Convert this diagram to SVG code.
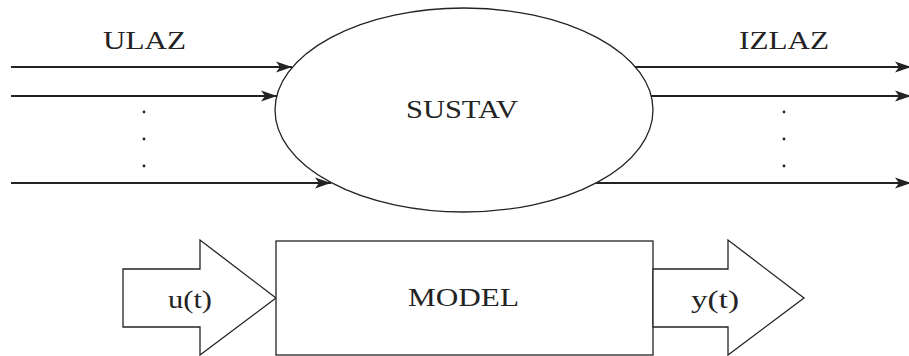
<svg xmlns="http://www.w3.org/2000/svg" width="909" height="356" viewBox="0 0 909 356">
<style>
.ln{stroke:#232323;stroke-width:2.2;fill:none}
.sh{stroke:#232323;stroke-width:1.3;fill:#fff}
.t{font-family:"Liberation Serif","Times New Roman",serif;font-size:25px;fill:#232323}
.dot{fill:#232323}
</style>
<defs>
<marker id="ah" markerUnits="userSpaceOnUse" markerWidth="18" markerHeight="12" refX="16" refY="6" orient="auto">
<path d="M0,0.5 L16,6 L0,11.5 L4,6 z" fill="#232323"/>
</marker>
</defs>
<g id="connectors">
<line class="ln" x1="11" y1="67" x2="292" y2="67" marker-end="url(#ah)"/>
<line class="ln" x1="11" y1="96" x2="277" y2="96" marker-end="url(#ah)"/>
<line class="ln" x1="11" y1="183" x2="331" y2="183" marker-end="url(#ah)"/>
<line class="ln" x1="635" y1="67" x2="911" y2="67" marker-end="url(#ah)"/>
<line class="ln" x1="651" y1="96" x2="911" y2="96" marker-end="url(#ah)"/>
<line class="ln" x1="596" y1="183" x2="911" y2="183" marker-end="url(#ah)"/>
</g>
<g id="labels">
<text class="t" x="103" y="49" textLength="83" lengthAdjust="spacingAndGlyphs">ULAZ</text>
<text class="t" x="739" y="49" textLength="90" lengthAdjust="spacingAndGlyphs">IZLAZ</text>
<circle class="dot" cx="144" cy="112" r="1.4"/>
<circle class="dot" cx="144" cy="139" r="1.4"/>
<circle class="dot" cx="144" cy="166" r="1.4"/>
<circle class="dot" cx="784" cy="112" r="1.4"/>
<circle class="dot" cx="784" cy="139" r="1.4"/>
<circle class="dot" cx="784" cy="166" r="1.4"/>
</g>
<g id="sustav">
<ellipse class="sh" cx="464" cy="110" rx="189" ry="102"/>
<text class="t" x="406" y="118" textLength="112" lengthAdjust="spacingAndGlyphs">SUSTAV</text>
</g>
<g id="input-arrow">
<polygon class="sh" points="123,269 200,269 200,240 276,298 200,355 200,327 123,327"/>
<text class="t" x="168" y="308" textLength="44" lengthAdjust="spacingAndGlyphs">u(t)</text>
</g>
<g id="model">
<rect class="sh" x="276" y="241" width="377" height="114"/>
<text class="t" x="408" y="306" textLength="111" lengthAdjust="spacingAndGlyphs">MODEL</text>
</g>
<g id="output-arrow">
<polygon class="sh" points="653,269 728,269 728,240 804,298 728,355 728,327 653,327"/>
<text class="t" x="691" y="308" textLength="48" lengthAdjust="spacingAndGlyphs">y(t)</text>
</g>
</svg>
